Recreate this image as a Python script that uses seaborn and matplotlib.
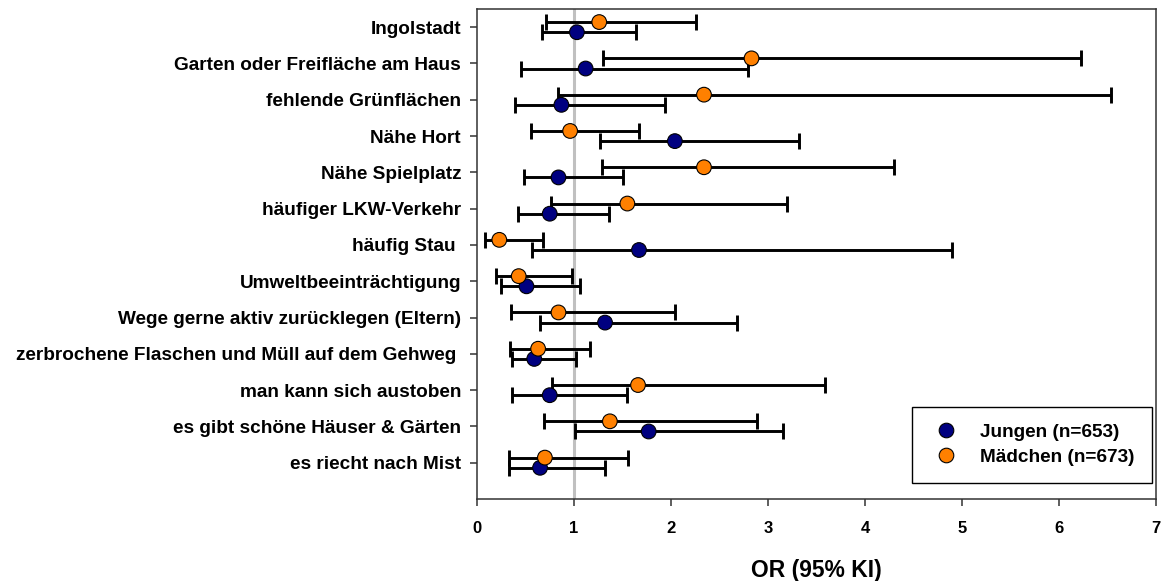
import matplotlib
matplotlib.use("Agg")
import matplotlib.pyplot as plt
from matplotlib.lines import Line2D
import seaborn as sns
import numpy as np
import pandas as pd

# ---------------- data ----------------
categories = [
    "Ingolstadt",
    "Garten oder Freifläche am Haus",
    "fehlende Grünflächen",
    "Nähe Hort",
    "Nähe Spielplatz",
    "häufiger LKW-Verkehr",
    "häufig Stau ",
    "Umweltbeeinträchtigung",
    "Wege gerne aktiv zurücklegen (Eltern)",
    "zerbrochene Flaschen und Müll auf dem Gehweg ",
    "man kann sich austoben",
    "es gibt schöne Häuser & Gärten",
    "es riecht nach Mist",
]
groups = ["Jungen (n=653)", "Mädchen (n=673)"]

boys_or = [1.03, 1.12, 0.87, 2.04, 0.84, 0.75, 1.67, 0.51, 1.32, 0.59, 0.75, 1.77, 0.65]
boys_lo = [0.67, 0.45, 0.39, 1.27, 0.48, 0.42, 0.57, 0.25, 0.65, 0.36, 0.36, 1.01, 0.33]
boys_hi = [1.64, 2.79, 1.94, 3.32, 1.51, 1.36, 4.90, 1.06, 2.68, 1.02, 1.55, 3.15, 1.32]

girls_or = [1.26, 2.83, 2.34, 0.96, 2.34, 1.55, 0.23, 0.43, 0.84, 0.63, 1.66, 1.37, 0.70]
girls_lo = [0.71, 1.30, 0.84, 0.56, 1.29, 0.76, 0.08, 0.20, 0.35, 0.34, 0.77, 0.69, 0.33]
girls_hi = [2.26, 6.23, 6.54, 1.67, 4.30, 3.20, 0.68, 0.98, 2.04, 1.17, 3.59, 2.89, 1.56]

x_ticks = [0, 1, 2, 3, 4, 5, 6, 7]
ref_value = 1

# ---------------- table ----------------
offsets = {groups[0]: 0.14, groups[1]: -0.14}
colors = {groups[0]: "#000080", groups[1]: "#FF8000"}
series = {groups[0]: (boys_or, boys_lo, boys_hi), groups[1]: (girls_or, girls_lo, girls_hi)}
rows = []
for g in groups:
    o, lo, hi = series[g]
    for i, c in enumerate(categories):
        rows.append(dict(category=c, idx=i, group=g, OR=o[i], lo=lo[i], hi=hi[i],
                         ypos=i + offsets[g]))
df = pd.DataFrame(rows)

# ---------------- style ----------------
sns.set_theme(style="white")
plt.rcParams["font.family"] = ["Liberation Sans", "DejaVu Sans"]
plt.rcParams["font.weight"] = "bold"
for k in ["text.color", "axes.labelcolor", "xtick.color", "ytick.color"]:
    plt.rcParams[k] = "black"

W, H = 1162, 581
fig = plt.figure(figsize=(W / 100, H / 100), dpi=100)
ax = fig.add_axes([477 / W, 1 - 499 / H, (1156 - 477) / W, (499 - 9) / H])

ax.axvline(ref_value, color="#C0C0C0", lw=2.2, zorder=1)

for g in groups:
    sub = df[df.group == g]
    ax.errorbar(sub["OR"], sub["ypos"],
                xerr=[sub["OR"] - sub["lo"], sub["hi"] - sub["OR"]],
                fmt="none", ecolor="black", elinewidth=2.1, capsize=5.6, capthick=2.1,
                zorder=2)

sns.scatterplot(data=df, x="OR", y="ypos", hue="group", hue_order=groups,
                palette=colors, s=112, edgecolor="black", linewidth=0.8,
                zorder=3, ax=ax, legend=False)

ax.set_xlim(0, 7)
ax.set_ylim(13.0, -0.5)
ax.set_yticks(range(len(categories)))
ax.set_yticklabels(categories, fontsize=13.7, fontweight="bold")
ax.set_xticks(x_ticks)
ax.set_xticklabels([str(t) for t in x_ticks], fontsize=12, fontweight="bold")
ax.tick_params(axis="both", direction="out", length=5, width=1.1, color="#333333",
               left=True, bottom=True)
ax.tick_params(axis="y", pad=6.5)
ax.tick_params(axis="x", pad=10.5)
for sp in ax.spines.values():
    sp.set_visible(True)
    sp.set_color("#333333")
    sp.set_linewidth(1.1)

ax.set_xlabel("OR (95% KI)", fontsize=16.5, fontweight="bold", labelpad=17)
ax.set_ylabel("")

handles = [Line2D([0], [0], marker="o", linestyle="none", markersize=10.5,
                  markerfacecolor=colors[g], markeredgecolor="black", markeredgewidth=0.8)
           for g in groups]
leg = ax.legend(handles, groups, loc="lower right", bbox_to_anchor=(0.994, 0.033),
                frameon=True, fancybox=False, edgecolor="black", framealpha=1,
                prop=dict(size=13.7, weight="bold"), handlelength=1.8,
                handletextpad=0.9, borderpad=0.9, labelspacing=0.38,
                borderaxespad=0)
leg.get_frame().set_linewidth(1.0)

fig.savefig("out.png", dpi=100)
